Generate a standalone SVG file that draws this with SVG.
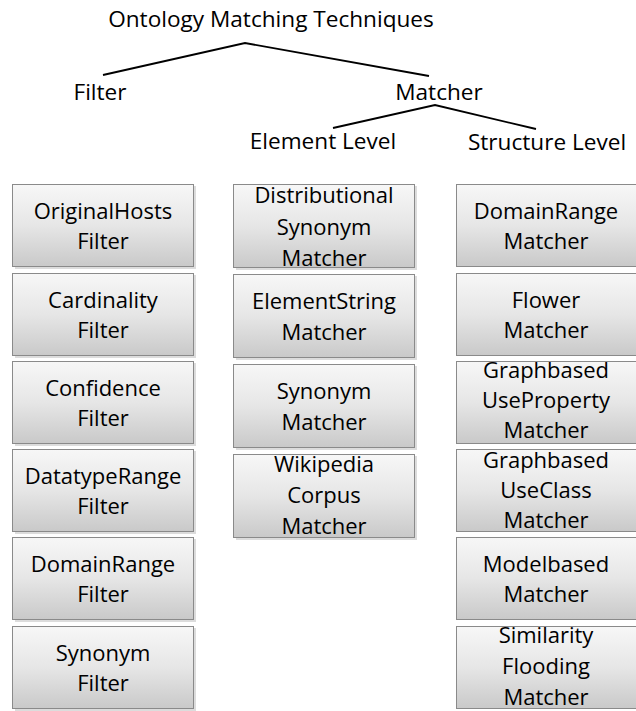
<svg xmlns="http://www.w3.org/2000/svg" width="636" height="711" viewBox="0 0 636 711">
<style>
  text { font-family: "Open Sans", "Liberation Sans", sans-serif; font-size: 22px; fill: #000; text-anchor: middle; }
  .big { font-size: 22.6px; }
  .box { fill: url(#g); stroke: #8a8a8a; stroke-width: 1; }
  .sh { fill: #c4c4c4; opacity: 0.6; }
  .conn { fill: none; stroke: #000; stroke-width: 1.8; }
</style>
<defs>
  <linearGradient id="g" x1="0" y1="0" x2="0" y2="1">
    <stop offset="0" stop-color="#f7f7f7"/>
    <stop offset="0.5" stop-color="#e6e6e6"/>
    <stop offset="1" stop-color="#c9c9c9"/>
  </linearGradient>
</defs>
<rect width="636" height="711" fill="#fff"/>
<g id="connectors">
  <polyline class="conn" points="103,75 245,43 429,76"/>
  <polyline class="conn" points="333,128 435,105 536,129"/>
</g>
<g id="title"><text class="big" x="271" y="27">Ontology Matching Techniques</text></g>
<g id="filter"><text class="big" x="100" y="100">Filter</text></g>
<g id="matcher"><text class="big" x="439" y="100">Matcher</text></g>
<g id="element-level"><text class="big" x="323" y="149">Element Level</text></g>
<g id="structure-level"><text class="big" x="547" y="150">Structure Level</text></g>

<g id="originalhosts-filter"><rect class="sh" x="15" y="186" width="181" height="83"/><rect class="box" x="12.5" y="184.5" width="181" height="82"/><text x="103" y="219">OriginalHosts</text><text x="103" y="249">Filter</text></g>
<g id="cardinality-filter"><rect class="sh" x="15" y="275" width="181" height="83"/><rect class="box" x="12.5" y="273.5" width="181" height="82"/><text x="103" y="308">Cardinality</text><text x="103" y="338">Filter</text></g>
<g id="confidence-filter"><rect class="sh" x="15" y="363" width="181" height="83"/><rect class="box" x="12.5" y="361.5" width="181" height="82"/><text x="103" y="396">Confidence</text><text x="103" y="426">Filter</text></g>
<g id="datatyperange-filter"><rect class="sh" x="15" y="451" width="181" height="83"/><rect class="box" x="12.5" y="449.5" width="181" height="82"/><text x="103" y="484">DatatypeRange</text><text x="103" y="514">Filter</text></g>
<g id="domainrange-filter"><rect class="sh" x="15" y="539" width="181" height="83"/><rect class="box" x="12.5" y="537.5" width="181" height="82"/><text x="103" y="572">DomainRange</text><text x="103" y="602">Filter</text></g>
<g id="synonym-filter"><rect class="sh" x="15" y="628" width="181" height="83"/><rect class="box" x="12.5" y="626.5" width="181" height="82"/><text x="103" y="661">Synonym</text><text x="103" y="691">Filter</text></g>

<g id="distributional-synonym-matcher"><rect class="sh" x="236" y="186" width="181" height="84"/><rect class="box" x="233.5" y="184.5" width="181" height="83"/><text x="324" y="203">Distributional</text><text x="324" y="235">Synonym</text><text x="324" y="266">Matcher</text></g>
<g id="elementstring-matcher"><rect class="sh" x="236" y="276" width="181" height="84"/><rect class="box" x="233.5" y="274.5" width="181" height="83"/><text x="324" y="309">ElementString</text><text x="324" y="340">Matcher</text></g>
<g id="synonym-matcher"><rect class="sh" x="236" y="366" width="181" height="84"/><rect class="box" x="233.5" y="364.5" width="181" height="83"/><text x="324" y="399">Synonym</text><text x="324" y="430">Matcher</text></g>
<g id="wikipedia-corpus-matcher"><rect class="sh" x="236" y="456" width="181" height="84"/><rect class="box" x="233.5" y="454.5" width="181" height="83"/><text x="324" y="472">Wikipedia</text><text x="324" y="503">Corpus</text><text x="324" y="534">Matcher</text></g>

<g id="domainrange-matcher"><rect class="box" x="456.5" y="184.5" width="181" height="82"/><text x="546" y="219">DomainRange</text><text x="546" y="249">Matcher</text></g>
<g id="flower-matcher"><rect class="box" x="456.5" y="273.5" width="181" height="82"/><text x="546" y="308">Flower</text><text x="546" y="338">Matcher</text></g>
<g id="graphbased-useproperty-matcher"><rect class="box" x="456.5" y="361.5" width="181" height="82"/><text x="546" y="378">Graphbased</text><text x="546" y="408">UseProperty</text><text x="546" y="438">Matcher</text></g>
<g id="graphbased-useclass-matcher"><rect class="box" x="456.5" y="449.5" width="181" height="82"/><text x="546" y="468">Graphbased</text><text x="546" y="498">UseClass</text><text x="546" y="528">Matcher</text></g>
<g id="modelbased-matcher"><rect class="box" x="456.5" y="537.5" width="181" height="82"/><text x="546" y="572">Modelbased</text><text x="546" y="602">Matcher</text></g>
<g id="similarity-flooding-matcher"><rect class="box" x="456.5" y="626.5" width="181" height="82"/><text x="546" y="643">Similarity</text><text x="546" y="674">Flooding</text><text x="546" y="705">Matcher</text></g>
</svg>
